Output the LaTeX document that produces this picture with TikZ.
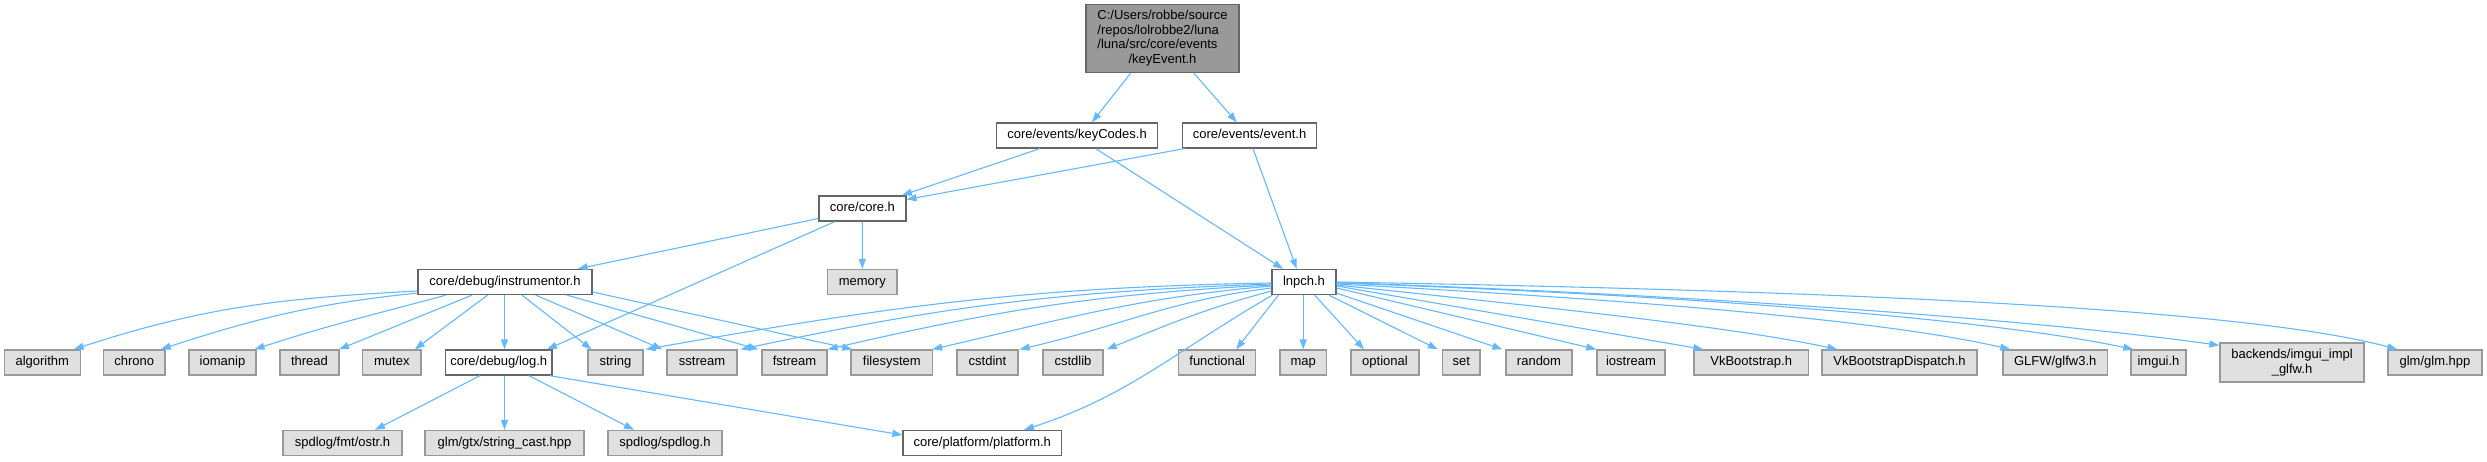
\documentclass[tikz,border=0pt]{standalone}
\usepackage{fontspec}
\setmainfont{Liberation Sans}
\usetikzlibrary{arrows.meta}
\definecolor{edgec}{HTML}{63B8FF}
\definecolor{rootfill}{HTML}{999999}
\definecolor{bord}{HTML}{666666}
\definecolor{sysfill}{HTML}{E0E0E0}
\definecolor{sysbord}{HTML}{999999}
\tikzset{
  box/.style={line width=1.3pt, inner sep=0pt, minimum height=25pt, font=\fontsize{13}{14.5}\selectfont},
  one/.style={text height=9.5pt, text depth=3pt},
  usr/.style={box, one, draw=bord, fill=white},
  sys/.style={box, one, draw=sysbord, fill=sysfill},
  rootbox/.style={box, draw=bord, fill=rootfill},
  edge/.style={draw=edgec, line width=1.1pt, -{Triangle[length=10pt,width=7pt]}},
}
\begin{document}
\begin{tikzpicture}[x=1pt,y=1pt]
\useasboundingbox (0,0) rectangle (2487,-461);
% row 1
\node[rootbox, minimum width=153, minimum height=68] (kE) at (1162.5,-38.7)
  {\begin{tabular}{@{}l@{}}C:/Users/robbe/source\\/repos/lolrobbe2/luna\\/luna/src/core/events\\\multicolumn{1}{@{}c@{}}{/keyEvent.h}\end{tabular}};
% row 2
\node[usr, minimum width=161.5] (kC) at (1077,-135.4) {core/events/keyCodes.h};
\node[usr, minimum width=134] (ev) at (1249.5,-135.4) {core/events/event.h};
% row 3
\node[usr, minimum width=87] (core) at (862.4,-208.5) {core/core.h};
% row 4
\node[usr, minimum width=174] (instr) at (505,-282) {core/debug/instrumentor.h};
\node[sys, minimum width=69.5] (mem) at (862.3,-282) {memory};
\node[usr, minimum width=64] (lnpch) at (1304,-282) {lnpch.h};
% row 5
\node[sys, minimum width=76] (algo) at (42.3,-362.5) {algorithm};
\node[sys, minimum width=61.4] (chrono) at (134.3,-362.5) {chrono};
\node[sys, minimum width=67] (iomanip) at (222.5,-362.5) {iomanip};
\node[sys, minimum width=59] (thread) at (309.5,-362.5) {thread};
\node[sys, minimum width=58.5] (mutex) at (391.8,-362.5) {mutex};
\node[usr, minimum width=106.5] (log) at (498.8,-362.5) {core/debug/log.h};
\node[sys, minimum width=55] (string) at (615.5,-362.5) {string};
\node[sys, minimum width=70] (sstream) at (702,-362.5) {sstream};
\node[sys, minimum width=65] (fstream) at (794.5,-362.5) {fstream};
\node[sys, minimum width=81.6] (fs) at (891.8,-362.5) {filesystem};
\node[sys, minimum width=61] (cstdint) at (987.5,-362.5) {cstdint};
\node[sys, minimum width=60] (cstdlib) at (1073,-362.5) {cstdlib};
\node[sys, minimum width=77.2] (functional) at (1217.2,-362.5) {functional};
\node[sys, minimum width=46.5] (map) at (1303.2,-362.5) {map};
\node[sys, minimum width=68] (optional) at (1385,-362.5) {optional};
\node[sys, minimum width=37.5] (nset) at (1461.2,-362.5) {set};
\node[sys, minimum width=66] (random) at (1539,-362.5) {random};
\node[sys, minimum width=68] (iostream) at (1631,-362.5) {iostream};
\node[sys, minimum width=114.5] (vkb) at (1751.2,-362.5) {VkBootstrap.h};
\node[sys, minimum width=155] (vkbd) at (1899.5,-362.5) {VkBootstrapDispatch.h};
\node[sys, minimum width=104.5] (glfw) at (2055.2,-362.5) {GLFW/glfw3.h};
\node[sys, minimum width=55] (imgui) at (2158.5,-362.5) {imgui.h};
\node[box, draw=sysbord, fill=sysfill, align=center, minimum width=144, minimum height=39] (backends) at (2292,-362.5) {backends/imgui\_impl\\\_glfw.h};
\node[sys, minimum width=94] (glm) at (2435,-362.5) {glm/glm.hpp};
% row 6
\node[sys, minimum width=119] (ostr) at (342.5,-443) {spdlog/fmt/ostr.h};
\node[sys, minimum width=159] (strcast) at (504.5,-443) {glm/gtx/string\_cast.hpp};
\node[sys, minimum width=114] (spdlog) at (665,-443) {spdlog/spdlog.h};
\node[usr, minimum width=158.6] (plat) at (982.3,-443) {core/platform/platform.h};

% edges: top
\draw[edge] ([xshift=-32]kE.south) -- ([xshift=15]kC.north);
\draw[edge] ([xshift=31.5]kE.south) -- ([xshift=-12.7]ev.north);
\draw[edge] ([xshift=-37]kC.south) -- ([xshift=39.6]core.north);
\draw[edge] ([xshift=3]ev.south west) -- ([yshift=9]core.east);
\draw[edge] ([xshift=18.7]kC.south) -- ([xshift=-21]lnpch.north);
\draw[edge] ([xshift=3.5]ev.south) -- ([xshift=-7.3]lnpch.north);
\draw[edge] ([yshift=-10]core.west) -- ([xshift=72.7]instr.north);
\draw[edge] ([xshift=-27.7]core.south) -- ([xshift=48.2]log.north);
\draw[edge] (core.south) -- (mem.north);

% instrumentor fan
\draw[edge] ([yshift=-9]instr.west) .. controls +(183:137) and +(18:137) .. ([xshift=31.4]algo.north);
\draw[edge] ([yshift=-11]instr.west) .. controls +(186:103) and +(18:103) .. ([xshift=26.4]chrono.north);
\draw[edge] ([xshift=-59]instr.south) .. controls +(195:78) and +(18:78) .. ([xshift=32]iomanip.north);
\draw[edge] ([xshift=-33]instr.south) -- ([xshift=29.5]thread.north);
\draw[edge] ([xshift=-17.5]instr.south) -- ([xshift=23]mutex.north);
\draw[edge] ([xshift=-0.5]instr.south) -- ([xshift=5.7]log.north);
\draw[edge] ([xshift=17]instr.south) -- ([xshift=-24]string.north);
\draw[edge] ([xshift=30.7]instr.south) -- ([xshift=-4]sstream.north west);
\draw[edge] ([xshift=62]instr.south) -- ([xshift=-3]fstream.north west);
\draw[edge] ([yshift=-10]instr.east) -- ([xshift=2]fs.north west);

% log.h fan
\draw[edge] ([xshift=-18.8]log.south) -- ([xshift=32.5]ostr.north);
\draw[edge] ([xshift=5.7]log.south) -- (strcast.north);
\draw[edge] ([xshift=30.2]log.south) -- ([xshift=-31]spdlog.north);
\draw[edge] ([xshift=-3]log.south east) -- ([yshift=8]plat.west);

% lnpch fan, left
\draw[edge] ([yshift=-1]lnpch.west) .. controls +(181:247) and +(10:247) .. ([xshift=2]string.north east);
\draw[edge] ([yshift=-2]lnpch.west) .. controls +(182:210) and +(12:210) .. ([xshift=3]sstream.north east);
\draw[edge] ([yshift=-3]lnpch.west) .. controls +(183:176) and +(13:176) .. (fstream.north east);
\draw[edge] ([yshift=-4]lnpch.west) .. controls +(185:135) and +(13:135) .. ([xshift=-1]fs.north east);
\draw[edge] ([yshift=-6]lnpch.west) .. controls +(187:102) and +(13:102) .. ([xshift=1]cstdint.north east);
\draw[edge] ([yshift=-9]lnpch.west) .. controls +(195:69) and +(22:69) .. ([xshift=3]cstdlib.north east);
\draw[edge] ([xshift=1]lnpch.south west) .. controls +(210:111) and +(18:111) .. ([xshift=41.7]plat.north);
\draw[edge] ([xshift=7]lnpch.south west) -- ([xshift=19]functional.north);
\draw[edge] ([xshift=-0.8]lnpch.south) -- (map.north);
\draw[edge] ([xshift=10.7]lnpch.south) -- ([xshift=-21]optional.north);
\draw[edge] ([xshift=25]lnpch.south) -- ([xshift=-4]nset.north west);
% lnpch fan, right
\draw[edge] ([yshift=2]lnpch.south east) -- ([xshift=-3]random.north west);
\draw[edge] ([yshift=-6]lnpch.east) -- (iostream.north west);
\draw[edge] ([yshift=-4]lnpch.east) -- ([xshift=10]vkb.north west);
\draw[edge] ([yshift=-3]lnpch.east) .. controls +(-6:250) and +(168:100) .. ([xshift=16]vkbd.north west);
\draw[edge] ([yshift=-2]lnpch.east) .. controls +(-3:330) and +(167:120) .. ([xshift=8]glfw.north west);
\draw[edge] ([yshift=-1]lnpch.east) .. controls +(-2:400) and +(168:130) .. ([xshift=3]imgui.north west);
\draw[edge] ([yshift=-0.5]lnpch.east) .. controls +(-2:450) and +(172:140) .. ([yshift=-3]backends.north west);
\draw[edge] (lnpch.east) .. controls +(-1:550) and +(165:150) .. ([xshift=10]glm.north west);
\end{tikzpicture}
\end{document}
